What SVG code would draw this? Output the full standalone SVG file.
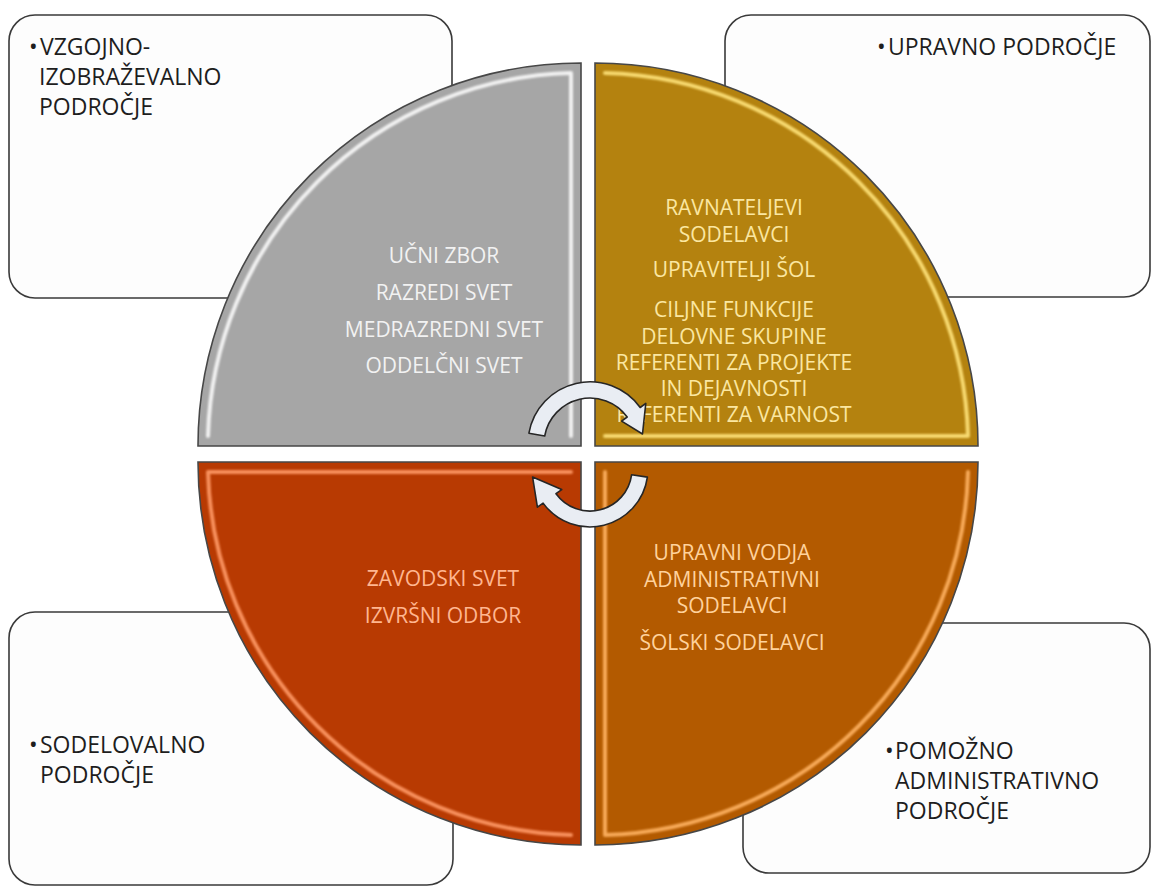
<svg xmlns="http://www.w3.org/2000/svg" width="1153" height="889" viewBox="0 0 1153 889">
<defs>
<style>
.box{fill:#fdfdfd;stroke:#3a3a3a;stroke-width:1.6}
.lbl{font-family:"Open Sans","Noto Sans","DejaVu Sans",sans-serif;font-size:23px;fill:#1e1e1e}
.q{stroke:#474747;stroke-width:1.6}
.qt{font-family:"Open Sans","Noto Sans","DejaVu Sans",sans-serif;font-size:21px;text-anchor:middle}
.hl{fill:none;stroke-width:4;stroke-linecap:round;stroke-linejoin:round;filter:url(#soft)}
.arr{fill:#e9edf3;stroke:#262626;stroke-width:1.6;stroke-linejoin:round}
</style>
<filter id="soft" x="-5%" y="-5%" width="110%" height="110%"><feGaussianBlur stdDeviation="0.9"/></filter>
</defs>
<rect width="1153" height="889" fill="#ffffff"/>

<g id="box-vzgojno">
<rect class="box" x="9" y="15" width="443" height="283" rx="26"/>
<text class="lbl"><tspan x="29" y="55">•</tspan><tspan x="40" y="55">VZGOJNO-</tspan><tspan x="39" y="85">IZOBRAŽEVALNO</tspan><tspan x="39" y="115">PODROČJE</tspan></text>
</g>
<g id="box-upravno">
<rect class="box" x="725" y="15" width="425" height="282" rx="26"/>
<text class="lbl"><tspan x="877" y="55">•</tspan><tspan x="888" y="55">UPRAVNO PODROČJE</tspan></text>
</g>
<g id="box-sodelovalno">
<rect class="box" x="9" y="612" width="444" height="273" rx="26"/>
<text class="lbl"><tspan x="29" y="753">•</tspan><tspan x="40" y="753">SODELOVALNO</tspan><tspan x="40" y="783">PODROČJE</tspan></text>
</g>
<g id="box-pomozno">
<rect class="box" x="743" y="623" width="407" height="250" rx="26"/>
<text class="lbl"><tspan x="885" y="759">•</tspan><tspan x="895" y="759">POMOŽNO</tspan><tspan x="895" y="789">ADMINISTRATIVNO</tspan><tspan x="895" y="819">PODROČJE</tspan></text>
</g>

<g id="q-gray">
<path class="q" fill="#a6a6a6" d="M581 446 L198 446 A383 383 0 0 1 581 63 Z"/>
<path class="hl" stroke="#ffffff" stroke-opacity="0.85" d="M571 436 L571 73 A373 373 0 0 0 208 436"/>
<text class="qt" fill="#f2f2f2"><tspan x="444" y="263">UČNI ZBOR</tspan><tspan x="444" y="300">RAZREDI SVET</tspan><tspan x="444" y="337">MEDRAZREDNI SVET</tspan><tspan x="444" y="373">ODDELČNI SVET</tspan></text>
</g>
<g id="q-gold">
<path class="q" fill="#b4820f" d="M595 446 L595 63 A383 383 0 0 1 978 446 Z"/>
<path class="hl" stroke="#ffe37a" stroke-opacity="0.9" d="M605 436 L968 436 A373 373 0 0 0 605 73"/>
<text class="qt" fill="#fbe7a1"><tspan x="734" y="215">RAVNATELJEVI</tspan><tspan x="734" y="242">SODELAVCI</tspan><tspan x="734" y="277">UPRAVITELJI ŠOL</tspan><tspan x="734" y="317">CILJNE FUNKCIJE</tspan><tspan x="734" y="344">DELOVNE SKUPINE</tspan><tspan x="734" y="370">REFERENTI ZA PROJEKTE</tspan><tspan x="734" y="396">IN DEJAVNOSTI</tspan><tspan x="734" y="422">REFERENTI ZA VARNOST</tspan></text>
</g>
<g id="q-red">
<path class="q" fill="#b83a02" d="M581 462 L581 845 A383 383 0 0 1 198 462 Z"/>
<path class="hl" stroke="#ff9a66" stroke-opacity="0.9" d="M571 472 L208 472 A373 373 0 0 0 571 835"/>
<text class="qt" fill="#ffb690"><tspan x="443" y="586">ZAVODSKI SVET</tspan><tspan x="443" y="623">IZVRŠNI ODBOR</tspan></text>
</g>
<g id="q-orange">
<path class="q" fill="#b35a00" d="M595 462 L978 462 A383 383 0 0 1 595 845 Z"/>
<path class="hl" stroke="#ffb262" stroke-opacity="0.9" d="M605 472 L605 835 A373 373 0 0 0 968 472"/>
<text class="qt" fill="#ffd29c"><tspan x="732" y="560">UPRAVNI VODJA</tspan><tspan x="732" y="587">ADMINISTRATIVNI</tspan><tspan x="732" y="613">SODELAVCI</tspan><tspan x="732" y="650">ŠOLSKI SODELAVCI</tspan></text>
</g>

<g id="connectors">
<path class="arr" d="M544.7 436 L528.9 433.2 A62 62 0 0 1 640.2 407.5 L645.8 403.4 L642.5 434 L621.6 421.1 L627.2 417 A46 46 0 0 0 544.7 436 Z"/>
<path class="arr" d="M631.6 474.8 L647.4 477.1 A58 58 0 0 1 543.1 503.1 L537.4 507.2 L532.6 477.1 L561.7 489.6 L556 493.7 A42 42 0 0 0 631.6 474.8 Z"/>
</g>
</svg>
